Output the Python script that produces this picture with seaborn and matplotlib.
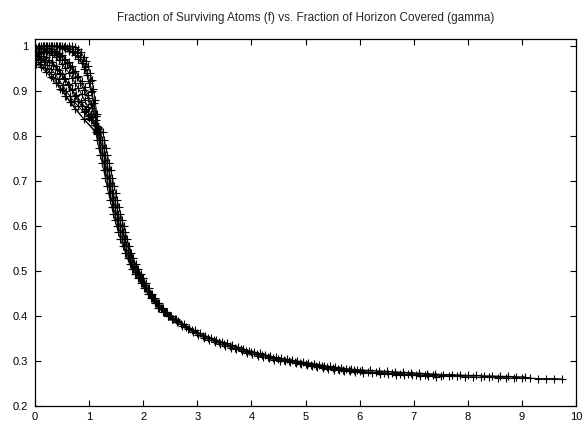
import numpy as np
import pandas as pd
import matplotlib
matplotlib.use("Agg")
import matplotlib.pyplot as plt
import seaborn as sns

title = "Fraction of Surviving Atoms (f) vs. Fraction of Horizon Covered (gamma)"
x_ticks = [0, 1, 2, 3, 4, 5, 6, 7, 8, 9, 10]
y_ticks = [0.2, 0.3, 0.4, 0.5, 0.6, 0.7, 0.8, 0.9, 1.0]
y_tick_labels = ["0.2", "0.3", "0.4", "0.5", "0.6", "0.7", "0.8", "0.9", "1"]

# ---- head curves (gamma < ~1.2) ----
g13 = [0.02, 0.08, 0.14, 0.2, 0.26, 0.32, 0.38, 0.44, 0.5, 0.56, 0.62, 0.68, 0.74]
g13b = [0.05, 0.11, 0.17, 0.23, 0.29, 0.35, 0.41, 0.47, 0.53, 0.59, 0.65, 0.71, 0.77]

h1_g = g13 + [0.8, 0.85, 0.9, 0.94, 0.98, 1.02, 1.05, 1.08, 1.11, 1.14, 1.17]
h1_f = [0.995, 0.999, 1.0, 1.0, 1.0, 1.0, 1.0, 1.0, 1.0, 1.0, 1.0, 0.999, 0.997,
        0.993, 0.986, 0.976, 0.966, 0.955, 0.94, 0.925, 0.905, 0.88, 0.85, 0.82]
h1b_g = g13b + [0.83, 0.88, 0.93, 0.97, 1.01, 1.05, 1.09, 1.13, 1.17]
h1b_f = [0.997, 1.0, 1.0, 1.0, 1.0, 1.0, 1.0, 0.999, 0.998, 0.996, 0.994, 0.99, 0.985,
         0.976, 0.966, 0.953, 0.94, 0.922, 0.9, 0.874, 0.845, 0.815]
h2_g = g13 + [0.8, 0.86, 0.91, 0.96, 1.0, 1.04, 1.08, 1.12, 1.16]
h2_f = [0.99, 0.996, 0.999, 1.0, 1.0, 1.0, 0.999, 0.998, 0.996, 0.993, 0.99, 0.986, 0.98,
        0.972, 0.962, 0.95, 0.935, 0.918, 0.898, 0.873, 0.845, 0.818]
h3_g = g13 + [0.8, 0.86, 0.92, 0.98, 1.04, 1.1, 1.15]
h3_f = [0.985, 0.99, 0.994, 0.995, 0.995, 0.993, 0.99, 0.985, 0.979, 0.972, 0.964, 0.955, 0.945,
        0.934, 0.922, 0.908, 0.892, 0.872, 0.848, 0.822]
h3b_g = g13b + [0.84, 0.91, 0.98, 1.05, 1.12, 1.16]
h3b_f = [0.983, 0.987, 0.99, 0.99, 0.989, 0.986, 0.982, 0.977, 0.97, 0.962, 0.953, 0.943, 0.932,
         0.918, 0.902, 0.884, 0.862, 0.835, 0.815]
h4_g = g13 + [0.8, 0.86, 0.92, 0.98, 1.04, 1.1, 1.15]
h4_f = [0.98, 0.984, 0.986, 0.986, 0.984, 0.98, 0.975, 0.968, 0.96, 0.951, 0.941, 0.93, 0.918,
        0.906, 0.893, 0.879, 0.864, 0.848, 0.83, 0.813]
h5_g = g13 + [0.8, 0.86, 0.92, 0.98, 1.04, 1.1, 1.15]
h5_f = [0.975, 0.977, 0.977, 0.975, 0.97, 0.964, 0.956, 0.947, 0.937, 0.926, 0.914, 0.902, 0.89,
        0.878, 0.866, 0.855, 0.845, 0.835, 0.824, 0.812]
h5b_g = [0.05, 0.12, 0.19, 0.26, 0.33, 0.40, 0.47, 0.54, 0.61, 0.68, 0.75, 0.85, 0.95, 1.05, 1.14]
h5b_f = [0.972, 0.972, 0.97, 0.965, 0.958, 0.949, 0.939, 0.928, 0.916, 0.904, 0.892, 0.876, 0.86, 0.842, 0.815]
h6_g = [0.02, 0.09, 0.16, 0.23, 0.3, 0.37, 0.44, 0.51, 0.58, 0.65, 0.72, 0.8, 0.9, 1.0, 1.1, 1.16]
h6_f = [0.97, 0.969, 0.965, 0.958, 0.949, 0.938, 0.926, 0.913, 0.9, 0.888, 0.877, 0.866, 0.853, 0.84, 0.825, 0.81]
h7_g = [0.02, 0.1, 0.18, 0.26, 0.34, 0.42, 0.5, 0.58, 0.66, 0.9, 1.15]
h7_f = [0.965, 0.96, 0.952, 0.942, 0.93, 0.917, 0.903, 0.889, 0.876, 0.838, 0.807]
h8_g = [0.02, 0.11, 0.2, 0.29, 0.38, 0.47, 0.56, 0.65, 0.74, 1.14]
h8_f = [0.96, 0.953, 0.943, 0.931, 0.918, 0.904, 0.89, 0.875, 0.86, 0.805]

# ---- steep part: five slightly offset strands sharing the f readings ----
steep_f = [0.81, 0.792, 0.774, 0.757, 0.741, 0.724, 0.707, 0.69, 0.673, 0.657, 0.642, 0.627,
           0.613, 0.6, 0.587, 0.571, 0.556, 0.541, 0.528, 0.516, 0.504, 0.494, 0.484, 0.474,
           0.462, 0.45, 0.439, 0.428, 0.418, 0.408, 0.4, 0.393]
sa_g = [1.12, 1.15, 1.18, 1.21, 1.24, 1.27, 1.30, 1.33, 1.36, 1.39, 1.42, 1.45, 1.48, 1.51, 1.54, 1.58,
        1.62, 1.67, 1.71, 1.75, 1.80, 1.85, 1.90, 1.96, 2.02, 2.08, 2.14, 2.21, 2.28, 2.37, 2.45, 2.53]
sb_g = [1.15, 1.18, 1.21, 1.24, 1.27, 1.30, 1.33, 1.36, 1.39, 1.42, 1.45, 1.48, 1.51, 1.54, 1.57, 1.61,
        1.65, 1.69, 1.73, 1.77, 1.82, 1.87, 1.93, 1.98, 2.04, 2.10, 2.16, 2.23, 2.30, 2.38, 2.46, 2.54]
sc_g = [1.18, 1.21, 1.24, 1.27, 1.30, 1.33, 1.36, 1.39, 1.42, 1.45, 1.48, 1.51, 1.54, 1.57, 1.60, 1.64,
        1.68, 1.72, 1.76, 1.80, 1.85, 1.90, 1.95, 2.00, 2.06, 2.12, 2.18, 2.25, 2.32, 2.40, 2.48, 2.56]
sd_g = [1.21, 1.24, 1.27, 1.30, 1.33, 1.36, 1.39, 1.42, 1.45, 1.48, 1.51, 1.54, 1.57, 1.60, 1.63, 1.67,
        1.71, 1.75, 1.79, 1.83, 1.88, 1.93, 1.98, 2.02, 2.08, 2.14, 2.20, 2.27, 2.34, 2.42, 2.50, 2.58]
se_g = [1.25, 1.28, 1.31, 1.34, 1.37, 1.40, 1.43, 1.46, 1.49, 1.52, 1.55, 1.58, 1.61, 1.64, 1.67, 1.70,
        1.74, 1.78, 1.82, 1.86, 1.91, 1.96, 2.00, 2.05, 2.10, 2.16, 2.22, 2.29, 2.36, 2.44, 2.52, 2.60]

# ---- tail strands ----
ta_g = [2.6, 2.7, 2.8, 2.9, 3.0, 3.1, 3.2, 3.3, 3.4, 3.5, 3.6, 3.7, 3.8, 3.9, 4.0,
        4.1, 4.2, 4.3, 4.4, 4.5, 4.6, 4.7, 4.8, 4.9, 5.0, 5.1, 5.2, 5.3, 5.4, 5.5,
        5.6, 5.7, 5.8, 5.9, 6.0, 6.15, 6.3, 6.45, 6.6, 6.75, 6.9, 7.05, 7.2, 7.35,
        7.5, 7.65, 7.8, 7.95, 8.1, 8.25, 8.4, 8.55, 8.7, 8.85, 9.0, 9.15, 9.3, 9.45,
        9.6, 9.75]
ta_f = [0.392, 0.383, 0.375, 0.368, 0.362, 0.356, 0.351, 0.347, 0.342, 0.338, 0.334, 0.330, 0.326, 0.322, 0.319,
        0.316, 0.313, 0.310, 0.307, 0.304, 0.302, 0.300, 0.298, 0.296, 0.294, 0.292, 0.290, 0.288, 0.286, 0.284,
        0.283, 0.281, 0.280, 0.279, 0.277, 0.276, 0.275, 0.274, 0.273, 0.272, 0.271, 0.270, 0.269, 0.268,
        0.267, 0.267, 0.266, 0.265, 0.265, 0.264, 0.264, 0.263, 0.263, 0.262, 0.262, 0.262, 0.261, 0.261,
        0.261, 0.260]
tb_g = [2.65, 2.75, 2.85, 2.95, 3.05, 3.15, 3.25, 3.35, 3.45, 3.55, 3.65, 3.75, 3.85, 3.95, 4.05,
        4.15, 4.25, 4.35, 4.45, 4.55, 4.65, 4.75, 4.85, 4.95, 5.05, 5.15, 5.25, 5.35, 5.45, 5.55,
        5.65, 5.75, 5.85, 5.95, 6.05, 6.2, 6.35, 6.5, 6.65, 6.8, 6.95, 7.1, 7.25, 7.4, 7.55,
        7.7, 7.85, 8.0, 8.15, 8.3, 8.45, 8.6, 8.75, 8.9, 9.05]
tb_f = [0.390, 0.382, 0.374, 0.368, 0.362, 0.356, 0.352, 0.347, 0.343, 0.339, 0.335, 0.331, 0.327, 0.323, 0.320,
        0.317, 0.314, 0.311, 0.308, 0.306, 0.304, 0.302, 0.300, 0.298, 0.296, 0.294, 0.292, 0.290, 0.288, 0.286,
        0.285, 0.283, 0.282, 0.281, 0.280, 0.279, 0.278, 0.277, 0.276, 0.275, 0.274, 0.273, 0.272, 0.271, 0.270,
        0.270, 0.269, 0.268, 0.268, 0.267, 0.267, 0.266, 0.266, 0.265, 0.265]
tc_g = [2.62, 2.72, 2.82, 2.92, 3.02, 3.12, 3.22, 3.32, 3.42, 3.52, 3.62, 3.72, 3.82, 3.92, 4.02,
        4.12, 4.22, 4.32, 4.42, 4.52, 4.62, 4.72, 4.82, 4.92, 5.02, 5.12, 5.22, 5.32, 5.42, 5.52,
        5.62, 5.72, 5.82, 5.92, 6.07, 6.22, 6.37, 6.52, 6.67, 6.82, 6.97, 7.12, 7.27, 7.42]
tc_f = [0.387, 0.378, 0.371, 0.364, 0.358, 0.352, 0.347, 0.343, 0.338, 0.334, 0.330, 0.326, 0.322, 0.318, 0.315,
        0.312, 0.309, 0.306, 0.303, 0.301, 0.299, 0.297, 0.295, 0.293, 0.291, 0.289, 0.287, 0.285, 0.283, 0.281,
        0.280, 0.278, 0.277, 0.276, 0.274, 0.273, 0.272, 0.271, 0.270, 0.269, 0.268, 0.267, 0.266, 0.265]

series = {
    "h1": (h1_g, h1_f), "h1b": (h1b_g, h1b_f), "h2": (h2_g, h2_f), "h3": (h3_g, h3_f),
    "h3b": (h3b_g, h3b_f), "h4": (h4_g, h4_f), "h5": (h5_g, h5_f), "h5b": (h5b_g, h5b_f),
    "h6": (h6_g, h6_f), "h7": (h7_g, h7_f), "h8": (h8_g, h8_f),
    "sa": (sa_g, steep_f), "sb": (sb_g, steep_f), "sc": (sc_g, steep_f),
    "sd": (sd_g, steep_f), "se": (se_g, steep_f),
    "ta": (ta_g, ta_f), "tb": (tb_g, tb_f), "tc": (tc_g, tc_f),
}
rows = []
for name, (gs, fs) in series.items():
    for g, f in zip(gs, fs):
        rows.append({"curve": name, "gamma": g, "f": f})
df = pd.DataFrame(rows)

sns.set_style("ticks")
plt.rcParams["font.family"] = ["Liberation Sans", "DejaVu Sans"]

fig = plt.figure(figsize=(5.82, 4.21), dpi=100)
ax = fig.add_axes([35 / 582, 1 - 406 / 421, (576 - 35) / 582, (406 - 39) / 421])

sns.lineplot(data=df, x="gamma", y="f", units="curve", estimator=None, sort=False,
             color="black", linewidth=0.7, marker="+", markersize=5.5,
             markeredgecolor="black", markeredgewidth=0.8, ax=ax, legend=False)

ax.set_xlim(0, 10)
ax.set_ylim(0.2, 1.0156)
ax.set_xticks(x_ticks)
ax.set_xticklabels([str(t) for t in x_ticks])
ax.set_yticks(y_ticks)
ax.set_yticklabels(y_tick_labels)
ax.set_xlabel("")
ax.set_ylabel("")
ax.tick_params(direction="in", length=4, width=0.8, top=True, right=True,
               labelsize=8, colors="black")
ax.tick_params(axis="x", pad=4)
ax.tick_params(axis="y", pad=5)
for sp in ax.spines.values():
    sp.set_visible(True)
    sp.set_linewidth(0.9)
    sp.set_color("black")
fig.text((35 + 576) / 2 / 582, 1 - 18 / 421, title, ha="center", va="center", fontsize=8.5)

fig.savefig("out.png", dpi=100)
